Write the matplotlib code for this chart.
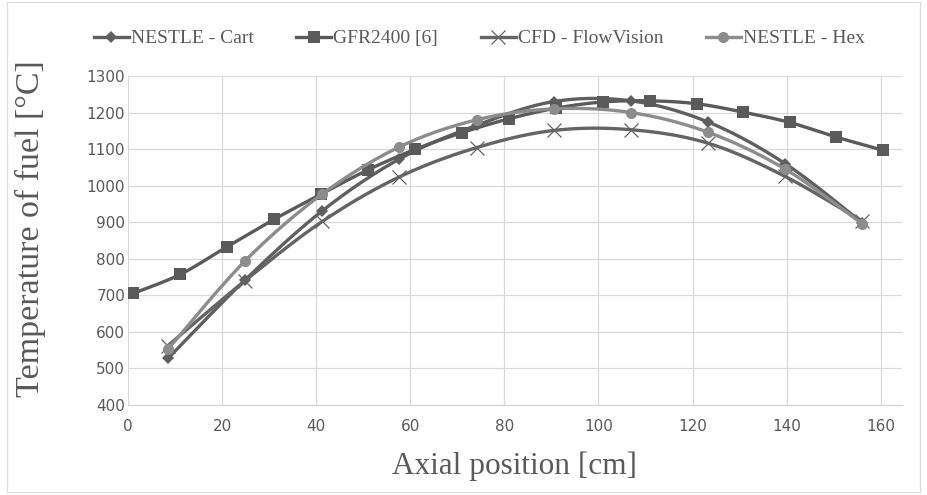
import numpy as np
import matplotlib.pyplot as plt
from matplotlib.lines import Line2D
from matplotlib.patches import Rectangle

# NESTLE - Cart
x_cart = [8.5, 24.9, 41.3, 57.7, 74.1, 90.5, 106.9, 123.3, 139.7, 156.1]
t_cart = [527, 742, 931, 1073, 1165, 1230, 1232, 1174, 1060, 898]

# GFR2400 [6]
x_gfr = [1.1, 11.1, 21.1, 31.1, 41.1, 51.0, 61.0, 71.0, 81.0, 91.0, 101.0,
         110.9, 120.9, 130.8, 140.6, 150.5, 160.4]
t_gfr = [705, 757, 833, 908, 977, 1043, 1099, 1145, 1183, 1212, 1229,
         1232, 1224, 1201, 1173, 1133, 1097]

# CFD - FlowVision
x_cfd = x_cart
t_cfd = [562, 740, 902, 1024, 1104, 1151, 1153, 1116, 1025, 902]

# NESTLE - Hex
x_hex = x_cart
t_hex = [552, 794, 977, 1106, 1180, 1210, 1200, 1146, 1045, 895]


def smooth(x, y, n=24):
    # Catmull-Rom style curve through the points (like Excel "smoothed line")
    p = np.column_stack([x, y]).astype(float)
    pts = [p[0]]
    for i in range(len(p) - 1):
        p0 = p[i - 1] if i > 0 else p[i]
        p3 = p[i + 2] if i + 2 < len(p) else p[i + 1]
        p1, p2 = p[i], p[i + 1]
        c1 = p1 + (p2 - p0) / 6
        c2 = p2 - (p3 - p1) / 6
        t = np.linspace(0, 1, n)[1:, None]
        seg = ((1 - t) ** 3) * p1 + 3 * ((1 - t) ** 2) * t * c1 \
            + 3 * (1 - t) * t ** 2 * c2 + t ** 3 * p2
        pts.extend(seg)
    pts = np.array(pts)
    return pts[:, 0], pts[:, 1]


series = [
    ("NESTLE - Cart", x_cart, t_cart, "#5f5f5f", dict(marker="D", ms=6, mew=0)),
    ("GFR2400 [6]", x_gfr, t_gfr, "#5a5a5a", dict(marker="s", ms=8.5, mew=0)),
    ("CFD - FlowVision", x_cfd, t_cfd, "#646464", dict(marker="x", ms=10, mew=0.9)),
    ("NESTLE - Hex", x_hex, t_hex, "#8c8c8c", dict(marker="o", ms=8, mew=0)),
]

fig = plt.figure(figsize=(9.27, 4.95), dpi=100)
ax = fig.add_axes([0.138, 0.182, 0.835, 0.6645])

handles = []
for i, (name, xs, ys, col, mk) in enumerate(series):
    sx, sy = smooth(xs, ys)
    ax.plot(sx, sy, color=col, lw=2.4, zorder=3 + i, solid_capstyle="round")
    ax.plot(xs, ys, ls="none", color=col, zorder=3 + i, **mk)
    handles.append(Line2D([0], [0], color=col, lw=2.4, **mk))

ax.set_xlim(0, 164.5)
ax.set_ylim(400, 1300)
ax.set_xticks(np.arange(0, 161, 20))
ax.set_yticks(np.arange(400, 1301, 100))
ax.grid(True, color="#d9d9d9", lw=0.9)
ax.set_axisbelow(True)
for s in ["top", "right", "left"]:
    ax.spines[s].set_visible(False)
ax.spines["bottom"].set_color("#d0d0d0")
ax.tick_params(length=0, colors="#595959")
ax.tick_params(axis="x", pad=10)
ax.tick_params(axis="y", pad=2)
for lab in ax.get_xticklabels() + ax.get_yticklabels():
    lab.set_family(["Liberation Sans Narrow", "DejaVu Sans"])
    lab.set_fontsize(11)

serif = ["Liberation Serif", "DejaVu Serif"]
ax.set_xlabel("Axial position [cm]", family=serif, fontsize=22.5, color="#595959", labelpad=13)
ax.set_ylabel("Temperature of fuel [°C]", family=serif, fontsize=24.5, color="#595959")
ax.yaxis.set_label_coords(-0.106, 0.535)

fig.legend(handles, [s[0] for s in series], loc="center", bbox_to_anchor=(0.517, 0.922),
           ncol=4, frameon=False, handlelength=1.8, columnspacing=2.2, handletextpad=0.1,
           prop={"family": serif, "size": 14}, labelcolor="#595959")

fig.patches.append(Rectangle((0.008, 0.006), 0.984, 0.99, transform=fig.transFigure,
                             fill=False, ec="#d9d9d9", lw=0.8))

fig.savefig("out.png", dpi=100)
